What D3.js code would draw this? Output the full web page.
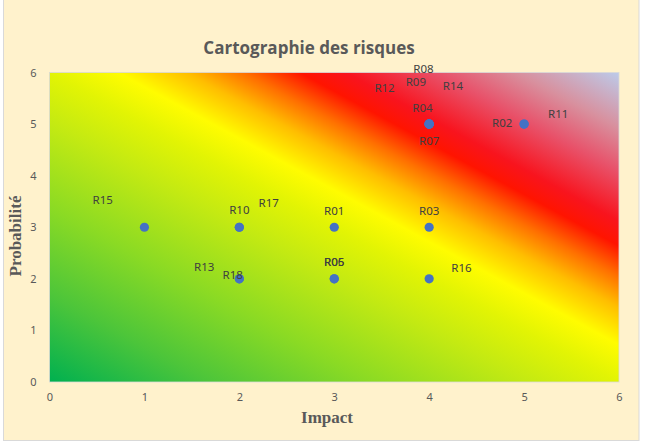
<!DOCTYPE html>
<html>
<head>
<meta charset="utf-8">
<script src="https://cdn.jsdelivr.net/npm/d3@7"></script>
<style>
  html, body { margin: 0; padding: 0; background: #ffffff; }
  svg { display: block; }
</style>
</head>
<body>
<div id="chart"></div>
<script>
// ---- Data ----
const title = "Cartographie des risques";
const xTitle = "Impact";
const yTitle = "Probabilité";
const xTicks = [0, 1, 2, 3, 4, 5, 6];
const yTicks = [0, 1, 2, 3, 4, 5, 6];

const riskIds     = ["R01","R02","R03","R04","R05","R06","R07","R08","R09","R10","R11","R12","R13","R14","R15","R16","R17","R18"];
const impact      = [3, 5, 4, 4, 3, 3, 4, 4, 4, 2, 5, 4, 2, 4, 1, 4, 2, 2];
const probability = [3, 5, 3, 5, 2, 2, 5, 5, 5, 3, 5, 5, 2, 5, 3, 2, 3, 2];
// label anchor positions (in impact / probability units), as dragged in the original
const labelImpact = [3.00, 4.77, 4.00, 3.93, 3.00, 3.00, 4.00, 3.94, 3.86, 2.00, 5.36, 3.53, 1.63, 4.25, 0.56, 4.34, 2.31, 1.93];
const labelProb   = [3.32, 5.02, 3.32, 5.31, 2.33, 2.33, 4.67, 6.07, 5.82, 3.33, 5.20, 5.70, 2.23, 5.74, 3.53, 2.21, 3.47, 2.07];

// ---- Layout ----
const W = 646, H = 447;
const plot = { left: 49.5, right: 619, top: 72.5, bottom: 382 };

const svg = d3.select("#chart").append("svg")
  .attr("width", W).attr("height", H);

// chart background
svg.append("rect")
  .attr("x", 3.5).attr("y", -1).attr("width", 635.5).attr("height", 441.5)
  .attr("fill", "#FFF2CC").attr("stroke", "#D9D9D9").attr("stroke-width", 1);

const x = d3.scaleLinear().domain([0, 6]).range([plot.left, plot.right]);
const y = d3.scaleLinear().domain([0, 6]).range([plot.bottom, plot.top]);

// gradient
const defs = svg.append("defs");
const grad = defs.append("linearGradient")
  .attr("id", "riskGrad")
  .attr("x1", 0).attr("y1", 1).attr("x2", 1).attr("y2", 0);
const stops = [
  [0.00, "#00B050"],
  [0.14, "#4CC53A"],
  [0.28, "#8ADA24"],
  [0.42, "#C4EA12"],
  [0.50, "#E2F404"],
  [0.56, "#FFFC00"],
  [0.62, "#FFBE00"],
  [0.67, "#FF7000"],
  [0.72, "#FF1400"],
  [0.76, "#F8141E"],
  [0.84, "#E8526A"],
  [0.91, "#D8909E"],
  [1.00, "#BCCBEA"]
];
grad.selectAll("stop").data(stops).join("stop")
  .attr("offset", d => d[0]).attr("stop-color", d => d[1]);

svg.append("rect")
  .attr("x", x(0)).attr("y", y(6))
  .attr("width", x(6) - x(0)).attr("height", y(0) - y(6))
  .attr("fill", "url(#riskGrad)")
  .attr("stroke", "#D9D9D9").attr("stroke-width", 0.8);

// axes (labels only)
const xAxis = d3.axisBottom(x).tickValues(xTicks).tickSize(0).tickPadding(11).tickFormat(d3.format("d"));
const gx = svg.append("g").attr("transform", `translate(0,${plot.bottom})`).call(xAxis);
gx.select(".domain").remove();
gx.selectAll("text").attr("fill", "#595959").style("font-family", "'Noto Sans', sans-serif").style("font-size", "11px");

const yAxis = d3.axisLeft(y).tickValues(yTicks).tickSize(0).tickPadding(13).tickFormat(d3.format("d"));
const gy = svg.append("g").attr("transform", `translate(${plot.left},0)`).call(yAxis);
gy.select(".domain").remove();
gy.selectAll("text").attr("fill", "#595959").style("font-family", "'Noto Sans', sans-serif").style("font-size", "11px");

// titles
svg.append("text")
  .attr("x", 309).attr("y", 54)
  .attr("text-anchor", "middle")
  .attr("fill", "#595959")
  .style("font-family", "'Open Sans', 'Noto Sans', sans-serif")
  .style("font-weight", "bold").style("font-size", "17px")
  .text(title);

svg.append("text")
  .attr("x", 327).attr("y", 423)
  .attr("text-anchor", "middle")
  .attr("fill", "#595959")
  .style("font-family", "'Liberation Serif', serif")
  .style("font-weight", "bold").style("font-size", "17px")
  .text(xTitle);

svg.append("text")
  .attr("transform", "translate(21,236) rotate(-90)")
  .attr("text-anchor", "middle")
  .attr("fill", "#595959")
  .style("font-family", "'Liberation Serif', serif")
  .style("font-weight", "bold").style("font-size", "17px")
  .text(yTitle);

// points
const risks = riskIds.map((id, i) => ({
  id, ix: impact[i], p: probability[i], lx: labelImpact[i], ly: labelProb[i]
}));

svg.append("g").selectAll("circle").data(risks).join("circle")
  .attr("cx", d => x(d.ix)).attr("cy", d => y(d.p))
  .attr("r", 4.6).attr("fill", "#4472C4");

// labels
svg.append("g").selectAll("text").data(risks).join("text")
  .attr("x", d => x(d.lx)).attr("y", d => y(d.ly))
  .attr("dy", "0.35em")
  .attr("text-anchor", "middle")
  .attr("fill", "#404040")
  .style("font-family", "'Noto Sans', sans-serif")
  .style("font-size", "11.5px")
  .text(d => d.id);
</script>
</body>
</html>
